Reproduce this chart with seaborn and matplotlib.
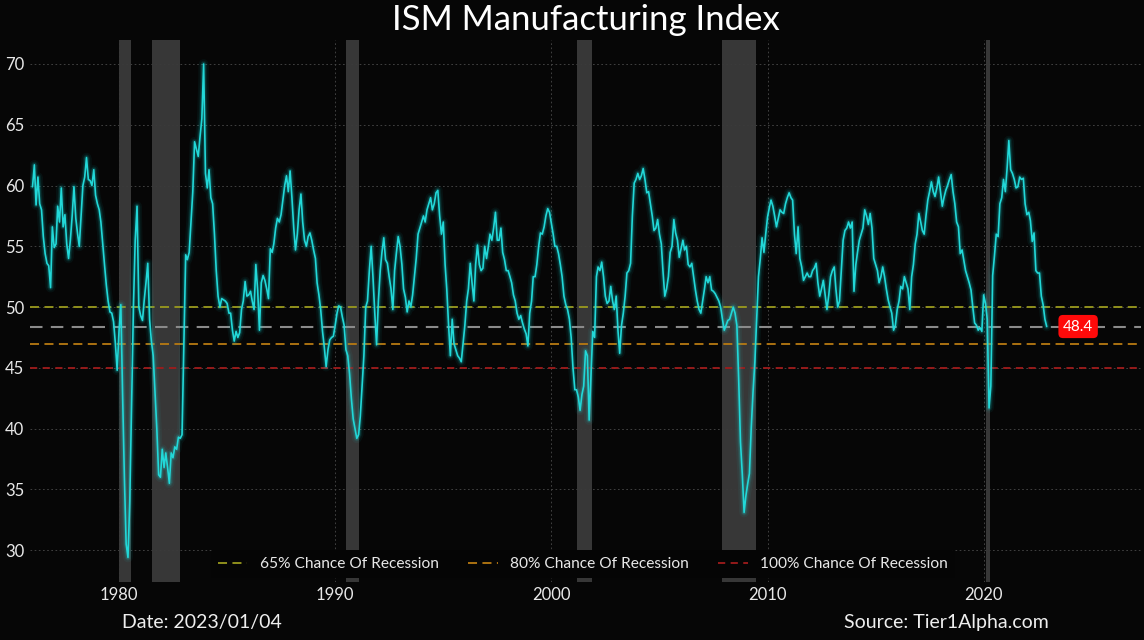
import numpy as np
import pandas as pd
import matplotlib
matplotlib.use("Agg")
import matplotlib.pyplot as plt
import matplotlib.dates as mdates
import seaborn as sns

# ---------------- data (monthly ISM PMI, Jan 1976 .. Dec 2022) ----------------
pmi_1970s = [
    59.9, 61.7, 58.4, 60.7, 58.5, 58.0, 55.8, 54.4, 53.6, 53.4, 51.6, 56.6,  # 1976
    54.9, 55.2, 58.3, 57.0, 59.8, 56.6, 57.6, 55.2, 54.0, 55.5, 57.5, 59.9,  # 1977
    57.3, 56.0, 55.0, 57.5, 60.0, 60.7, 62.3, 60.5, 60.4, 60.0, 61.3, 59.2,  # 1978
    58.5, 58.0, 57.0, 55.2, 53.5, 51.8, 50.5, 49.6, 49.5, 48.8, 47.0, 44.8,  # 1979
]
pmi_1980s = [
    48.0, 50.2, 43.0, 36.0, 30.5, 29.4, 34.0, 42.0, 50.0, 55.5, 58.3, 50.0,  # 1980
    49.3, 48.9, 50.5, 52.0, 53.6, 49.0, 47.2, 46.0, 43.0, 40.0, 36.2, 36.0,  # 1981
    38.3, 36.8, 38.0, 36.8, 35.5, 38.0, 37.6, 38.5, 38.3, 39.3, 39.2, 39.5,  # 1982
    47.0, 54.3, 53.9, 54.5, 57.0, 59.5, 63.6, 63.0, 62.4, 64.0, 65.5, 70.0,  # 1983
    61.0, 59.8, 61.3, 59.0, 58.5, 56.0, 53.0, 50.9, 50.0, 50.7, 50.6, 50.5,  # 1984
    50.3, 49.5, 49.5, 48.1, 47.2, 48.0, 47.5, 47.9, 49.8, 50.5, 52.1, 50.9,  # 1985
    51.0, 51.3, 50.5, 49.8, 53.5, 51.4, 48.1, 52.0, 52.6, 52.2, 51.5, 50.7,  # 1986
    54.8, 54.5, 55.2, 56.5, 57.3, 57.0, 57.6, 58.8, 60.0, 60.8, 59.5, 61.2,  # 1987
    59.0, 56.5, 54.7, 56.0, 58.0, 59.3, 57.0, 55.5, 55.0, 55.8, 56.1, 55.5,  # 1988
    54.7, 54.0, 52.0, 51.0, 49.8, 48.0, 46.7, 45.1, 46.5, 47.3, 47.5, 47.6,  # 1989
]
pmi_1990s = [
    48.5, 49.5, 50.1, 50.0, 49.2, 48.5, 46.5, 46.0, 44.5, 42.5, 40.8, 40.0,  # 1990
    39.2, 39.5, 41.0, 43.5, 46.0, 50.0, 50.5, 53.0, 55.0, 52.5, 49.5, 46.9,  # 1991
    50.5, 53.0, 54.5, 55.7, 53.9, 53.6, 52.5, 51.5, 49.8, 53.0, 54.5, 55.8,  # 1992
    55.0, 53.5, 51.5, 50.8, 49.6, 50.5, 50.0, 51.0, 52.5, 54.0, 56.0, 56.5,  # 1993
    57.0, 57.5, 57.0, 58.0, 58.5, 59.0, 58.0, 58.5, 59.4, 59.6, 57.5, 56.0,  # 1994
    57.0, 53.5, 51.5, 48.5, 46.0, 49.0, 47.0, 46.5, 46.0, 45.8, 45.5, 47.0,  # 1995
    48.5, 50.5, 51.5, 53.6, 52.0, 50.5, 53.5, 55.1, 53.5, 53.0, 53.2, 55.0,  # 1996
    54.0, 55.0, 56.0, 55.5, 56.5, 57.8, 55.5, 55.5, 56.5, 54.5, 53.9, 53.0,  # 1997
    53.0, 52.5, 52.0, 51.0, 50.5, 49.5, 49.0, 49.3, 48.7, 48.2, 47.8, 46.8,  # 1998
    49.5, 50.5, 52.5, 52.5, 53.5, 55.0, 56.1, 56.0, 56.6, 57.5, 58.1, 57.8,  # 1999
]
pmi_2000s = [
    56.9, 56.0, 55.0, 55.0, 54.4, 53.5, 52.5, 50.9, 50.2, 49.8, 49.0, 47.5,  # 2000
    45.0, 43.2, 43.2, 42.6, 41.5, 42.8, 43.5, 46.4, 46.0, 40.7, 44.5, 48.0,  # 2001
    47.5, 52.5, 53.3, 53.0, 53.7, 52.5, 50.9, 50.3, 50.5, 51.7, 50.5, 49.8,  # 2002
    50.9, 48.0, 46.2, 48.5, 49.5, 50.9, 52.8, 53.0, 53.6, 57.5, 60.2, 60.5,  # 2003
    61.0, 60.5, 60.8, 61.4, 60.5, 59.4, 59.5, 58.5, 57.5, 56.3, 56.5, 57.2,  # 2004
    56.0, 55.2, 53.0, 50.9, 51.5, 52.5, 54.5, 55.0, 57.2, 56.1, 55.5, 54.1,  # 2005
    54.8, 55.5, 54.7, 55.0, 53.5, 53.3, 53.6, 52.5, 51.4, 50.5, 49.8, 49.5,  # 2006
    50.5, 51.5, 52.5, 52.0, 52.5, 51.4, 51.3, 51.1, 50.8, 50.5, 50.0, 49.0,  # 2007
    48.1, 48.5, 48.9, 49.0, 49.5, 50.0, 49.5, 48.5, 44.0, 38.9, 36.2, 33.1,  # 2008
    34.5, 35.5, 36.3, 40.1, 43.0, 45.5, 49.0, 52.5, 54.0, 55.7, 54.5, 56.0,  # 2009
]
pmi_2010s = [
    57.4, 58.2, 58.8, 58.3, 57.5, 56.6, 57.3, 58.0, 57.8, 57.7, 58.5, 59.0,  # 2010
    59.4, 59.0, 58.8, 56.0, 54.4, 56.6, 54.0, 53.3, 52.2, 52.5, 52.8, 52.5,  # 2011
    52.5, 53.0, 53.2, 53.6, 52.0, 50.9, 51.5, 52.2, 51.0, 49.8, 51.0, 52.5,  # 2012
    53.0, 53.3, 51.5, 50.0, 50.5, 53.0, 55.5, 56.3, 56.5, 57.0, 56.5, 57.0,  # 2013
    51.3, 53.5, 54.5, 55.5, 56.0, 56.5, 58.0, 57.5, 56.8, 57.7, 56.5, 54.0,  # 2014
    53.5, 53.0, 52.0, 52.5, 53.3, 52.5, 51.5, 50.6, 50.0, 49.5, 48.1, 48.5,  # 2015
    49.8, 50.5, 51.7, 51.5, 52.5, 52.0, 51.5, 49.8, 52.5, 53.5, 55.2, 56.0,  # 2016
    57.7, 57.0, 56.3, 56.0, 57.5, 58.8, 59.5, 60.3, 59.5, 59.1, 59.8, 60.7,  # 2017
    59.5, 58.3, 59.0, 59.6, 60.0, 60.5, 60.9, 59.5, 58.5, 57.0, 56.6, 54.4,  # 2018
    54.7, 53.8, 53.0, 52.5, 52.0, 51.4, 50.0, 48.7, 48.5, 48.1, 48.3, 48.0,  # 2019
]
pmi_2020s = [
    51.0, 50.3, 49.0, 41.7, 43.5, 52.6, 54.2, 56.0, 55.8, 58.5, 59.0, 60.5,  # 2020
    59.5, 61.5, 63.7, 61.3, 61.0, 60.5, 59.8, 59.9, 60.7, 60.5, 60.6, 58.5,  # 2021
    57.6, 57.8, 57.1, 55.4, 56.1, 53.0, 52.8, 52.8, 50.9, 50.2, 49.0, 48.4,  # 2022
]
series_start = "1976-01-01"

recession_starts = ["1980-01-01", "1981-07-15", "1990-07-01", "2001-03-15", "2007-12-01", "2020-02-01"]
recession_ends = ["1980-07-15", "1982-11-01", "1991-02-15", "2001-11-15", "2009-06-15", "2020-04-15"]

threshold_values = [50, 47, 45]
threshold_labels = ["65% Chance Of Recession", "80% Chance Of Recession", "100% Chance Of Recession"]
threshold_colors = ["#9a9a1e", "#b87a12", "#a01c1c"]

latest_value = 48.4
title_text = "ISM Manufacturing Index"
date_text = "Date: 2023/01/04"
source_text = "Source: Tier1Alpha.com"
y_ticks = [30, 35, 40, 45, 50, 55, 60, 65, 70]
x_tick_years = [1980, 1990, 2000, 2010, 2020]

# ---------------- build frame ----------------
values = pmi_1970s + pmi_1980s + pmi_1990s + pmi_2000s + pmi_2010s + pmi_2020s
dates = pd.date_range(series_start, periods=len(values), freq="MS")
df = pd.DataFrame({"date": dates, "pmi": values})

# ---------------- style ----------------
sns.set_theme(style="dark")
bg = "#060606"
plt.rcParams["font.family"] = ["Lato", "DejaVu Sans"]

fig = plt.figure(figsize=(11.44, 6.4), dpi=100, facecolor=bg)
ax = fig.add_axes([0.026, 0.091, 0.971, 0.847])
ax.set_facecolor(bg)

# recession shading
for s, e in zip(recession_starts, recession_ends):
    ax.axvspan(pd.Timestamp(s), pd.Timestamp(e), color="#3a3a3a", alpha=0.95, lw=0, zorder=1)

# grid
ax.grid(True, color="#4a4a4a", linestyle=(0, (2, 3)), linewidth=0.6, zorder=0)

# threshold lines
for v, lab, c in zip(threshold_values, threshold_labels, threshold_colors):
    ls = (0, (5, 3)) if v != 45 else (0, (4, 3))
    ax.axhline(v, color=c, linestyle=ls, linewidth=1.3, label=lab, zorder=2)
ax.axhline(latest_value, color="#8a8a8a", linestyle=(0, (6, 4)), linewidth=1.5, zorder=2)

# glow + main line
for lw, a in [(7, 0.05), (4.5, 0.08), (3, 0.15)]:
    sns.lineplot(data=df, x="date", y="pmi", ax=ax, color="#19e6e6", linewidth=lw,
                 alpha=a, legend=False, zorder=3)
sns.lineplot(data=df, x="date", y="pmi", ax=ax, color="#22d8d8", linewidth=1.2,
             legend=False, zorder=4)

# axes limits and ticks
ax.set_xlim(pd.Timestamp("1975-11-15"), pd.Timestamp("2027-04-05"))
ax.set_ylim(27.4, 72.0)
ax.set_yticks(y_ticks)
ax.set_xticks([pd.Timestamp(f"{y}-01-01") for y in x_tick_years])
ax.xaxis.set_major_formatter(mdates.DateFormatter("%Y"))
ax.tick_params(axis="both", colors="#e8e8e8", labelsize=12, length=0, pad=4)
ax.set_xlabel("")
ax.set_ylabel("")
for sp in ax.spines.values():
    sp.set_visible(False)

# latest value label
ax.annotate(f"{latest_value}", xy=(pd.Timestamp("2024-05-15"), latest_value),
            ha="center", va="center", color="white", fontsize=11,
            bbox=dict(boxstyle="round,pad=0.3", fc="#ff0a0a", ec="none"), zorder=6)

# legend
handles, labels = ax.get_legend_handles_labels()
leg = ax.legend(handles, labels, loc="lower center", bbox_to_anchor=(0.498, -0.008), ncol=3,
                frameon=True, facecolor="#050505", edgecolor="none", framealpha=1.0,
                fontsize=11.2, columnspacing=1.9, handlelength=1.9, handletextpad=0.8,
                borderpad=0.45)
for t in leg.get_texts():
    t.set_color("#e8e8e8")
leg.set_zorder(10)

# titles / footer
fig.text(0.512, 0.968, title_text, ha="center", va="center", color="white", fontsize=25)
fig.text(0.107, 0.028, date_text, ha="left", va="center", color="#eeeeee", fontsize=14)
fig.text(0.917, 0.028, source_text, ha="right", va="center", color="#eeeeee", fontsize=14)

fig.savefig("out.png", dpi=100, facecolor=bg)
